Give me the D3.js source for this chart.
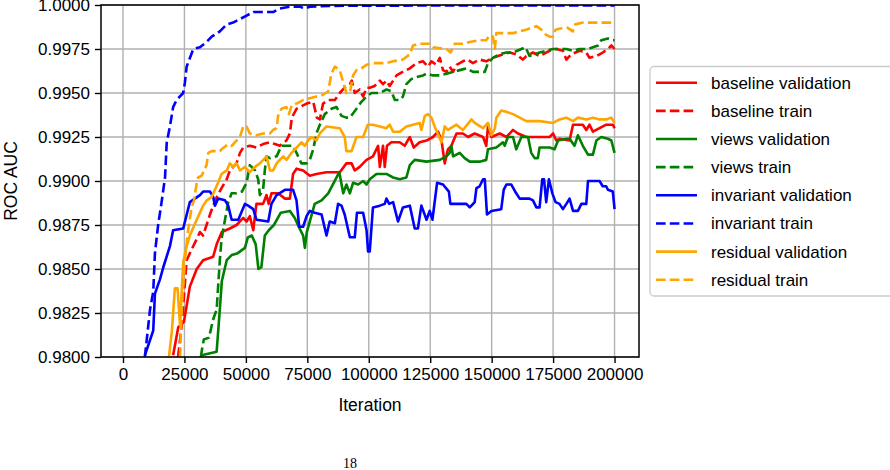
<!DOCTYPE html>
<html>
<head>
<meta charset="utf-8">
<script src="https://cdn.jsdelivr.net/npm/d3@7"></script>
<style>
  body { margin: 0; background: #fff; }
  svg text { font-family: "Liberation Sans", Arial, sans-serif; fill: #000; }
</style>
</head>
<body>
<svg id="canvas" width="890" height="470"></svg>
<script>
// iterations are in thousands, values are ROC AUC
let baselineVal = [[20.4,0.9801],[22.5,0.9817],[24.8,0.9820],[27.2,0.9840],[30.0,0.9850],[32.6,0.9855],[36.7,0.9857],[38.1,0.9864],[40.2,0.9871],[43.5,0.9873],[46.2,0.9875],[48.9,0.9879],[50.3,0.9877],[51.6,0.9880],[53.0,0.9872],[54.3,0.9887],[57.0,0.9887],[58.4,0.9892],[59.3,0.9887],[60.4,0.9893],[63.1,0.9893],[65.9,0.9890],[67.9,0.9890],[69.2,0.9904],[70.6,0.9907],[73.3,0.9906],[76.0,0.9903],[78.7,0.9904],[82.8,0.9905],[88.2,0.9905],[90.9,0.9910],[93.0,0.9910],[94.3,0.9906],[96.3,0.9908],[99.1,0.9912],[101.7,0.9914],[103.8,0.9920],[104.5,0.9908],[105.8,0.9920],[106.5,0.9908],[107.4,0.9920],[109.2,0.9922],[112.6,0.9922],[114.6,0.9920],[116.7,0.9925],[118.3,0.9919],[120.7,0.9922],[123.5,0.9923],[126.1,0.9925],[128.2,0.9928],[129.6,0.9923],[130.9,0.9910],[132.2,0.9918],[133.6,0.9920],[135.7,0.9927],[138.3,0.9927],[140.4,0.9925],[143.1,0.9927],[146.5,0.9925],[147.8,0.9920],[148.5,0.9931],[149.9,0.9925],[153.3,0.9927],[156.0,0.9925],[158.7,0.9929],[160.7,0.9927],[164.1,0.9925],[173.6,0.9925],[175.0,0.9927],[176.3,0.9923],[177.6,0.9924],[181.7,0.9923],[183.1,0.9932],[187.1,0.9932],[188.5,0.9929],[189.8,0.9932],[191.2,0.9928],[193.9,0.9930],[196.6,0.9932],[199.3,0.9932],[200,0.9930]];

let baselineTrain = [[22.4,0.9800],[23.9,0.9818],[25.9,0.9855],[27.9,0.9861],[30.0,0.9867],[31.3,0.9871],[32.6,0.9869],[34.0,0.9875],[35.4,0.9881],[36.7,0.9886],[38.2,0.9891],[40.1,0.9896],[42.2,0.9901],[43.5,0.9906],[44.8,0.9908],[46.2,0.9910],[47.6,0.9916],[48.9,0.9919],[51.6,0.9920],[54.3,0.9919],[57.0,0.9921],[59.8,0.9922],[61.8,0.9921],[63.8,0.9920],[66.5,0.9923],[67.9,0.9927],[68.7,0.9936],[70.6,0.9941],[72.0,0.9942],[74.7,0.9944],[77.4,0.9945],[78.9,0.9936],[80.1,0.9935],[81.4,0.9944],[83.5,0.9946],[86.2,0.9946],[88.2,0.9950],[90.2,0.9953],[92.3,0.9955],[93.1,0.9957],[94.3,0.9950],[96.3,0.9952],[97.7,0.9948],[99.1,0.9953],[100.4,0.9953],[102.4,0.9954],[104.5,0.9957],[105.8,0.9955],[107.2,0.9957],[108.5,0.9954],[111.3,0.9960],[113.8,0.9962],[116.7,0.9964],[119.4,0.9967],[122.1,0.9968],[124.1,0.9965],[125.5,0.9968],[127.5,0.9966],[128.9,0.9970],[130.2,0.9963],[131.6,0.9962],[132.9,0.9965],[134.3,0.9962],[135.7,0.9966],[138.3,0.9968],[140.2,0.9969],[142.4,0.9967],[145.1,0.9969],[147.8,0.9968],[150.5,0.9970],[154.6,0.9972],[157.3,0.9973],[160.0,0.9972],[162.7,0.9969],[164.1,0.9971],[166.8,0.9973],[169.5,0.9971],[173.6,0.9974],[176.3,0.9975],[179.0,0.9974],[180.4,0.9969],[182.4,0.9972],[185.8,0.9974],[188.5,0.9973],[189.8,0.9970],[192.6,0.9971],[195.2,0.9973],[197.3,0.9975],[198.7,0.9977],[200,0.9975]];

let viewsVal = [[32.0,0.9801],[38.1,0.9803],[39.4,0.9827],[40.2,0.9843],[42.2,0.9855],[44.3,0.9858],[46.7,0.9859],[49.6,0.9862],[50.8,0.9868],[52.4,0.9869],[54.0,0.9864],[55.1,0.9850],[56.3,0.9851],[57.7,0.9869],[59.3,0.9872],[61.4,0.9875],[64.2,0.9882],[67.9,0.9883],[69.9,0.9879],[71.5,0.9874],[73.3,0.9869],[74.0,0.9862],[74.8,0.9871],[78.0,0.9887],[80.8,0.9889],[83.5,0.9893],[86.9,0.9902],[88.0,0.9905],[89.6,0.9893],[90.9,0.9898],[92.3,0.9893],[93.6,0.9899],[95.7,0.9898],[97.7,0.9900],[99.1,0.9898],[100.4,0.9901],[103.1,0.9904],[107.2,0.9904],[109.9,0.9902],[112.6,0.9901],[115.3,0.9902],[116.7,0.9909],[118.7,0.9912],[123.5,0.9911],[128.9,0.9912],[131.6,0.9914],[132.9,0.9916],[133.6,0.9920],[134.3,0.9914],[137.0,0.9916],[139.0,0.9913],[141.1,0.9911],[145.1,0.9911],[147.8,0.9912],[148.5,0.9918],[151.9,0.9919],[154.6,0.9922],[155.3,0.9920],[156.6,0.9925],[158.7,0.9925],[160.0,0.9918],[162.1,0.9925],[164.8,0.9925],[166.1,0.9916],[167.5,0.9913],[168.8,0.9913],[169.5,0.9919],[173.6,0.9919],[175.6,0.9918],[177.0,0.9923],[180.4,0.9924],[181.7,0.9924],[183.7,0.9920],[185.1,0.9926],[187.1,0.9920],[189.2,0.9915],[191.2,0.9915],[192.6,0.9923],[194.6,0.9925],[197.3,0.9924],[198.7,0.9923],[200,0.9916]];

let viewsTrain = [[31.7,0.9800],[32.1,0.9804],[32.9,0.9810],[35.0,0.9811],[36.6,0.9821],[38.1,0.9827],[38.7,0.9840],[39.4,0.9855],[40.1,0.9867],[41.5,0.9878],[42.8,0.9888],[44.2,0.9893],[46.2,0.9893],[48.4,0.9894],[50.3,0.9899],[51.6,0.9909],[53.7,0.9906],[55.0,0.9901],[55.7,0.9892],[57.0,0.9895],[57.7,0.9906],[58.4,0.9914],[59.8,0.9913],[62.5,0.9914],[64.5,0.9920],[69.2,0.9920],[70.6,0.9916],[72.6,0.9910],[74.7,0.9910],[76.0,0.9912],[77.4,0.9918],[78.7,0.9927],[80.1,0.9932],[82.1,0.9938],[84.8,0.9941],[86.9,0.9942],[88.9,0.9937],[90.9,0.9936],[92.3,0.9936],[95.0,0.9941],[97.0,0.9945],[99.1,0.9948],[101.1,0.9950],[104.5,0.9950],[107.2,0.9952],[109.2,0.9951],[110.6,0.9946],[112.6,0.9946],[113.9,0.9948],[115.3,0.9955],[117.4,0.9958],[119.4,0.9959],[122.1,0.9960],[123.5,0.9961],[126.1,0.9960],[128.9,0.9960],[131.6,0.9961],[134.3,0.9962],[137.0,0.9963],[139.7,0.9964],[142.4,0.9962],[147.2,0.9962],[148.5,0.9967],[150.5,0.9970],[153.3,0.9972],[156.0,0.9973],[158.7,0.9973],[162.1,0.9975],[163.8,0.9976],[165.4,0.9971],[167.5,0.9972],[169.5,0.9973],[172.2,0.9974],[174.9,0.9975],[180.4,0.9975],[183.1,0.9974],[185.8,0.9975],[189.2,0.9975],[191.2,0.9976],[193.3,0.9977],[194.6,0.9980],[197.3,0.9981],[199.3,0.9980],[200,0.9980]];

let invariantVal = [[8.9,0.9801],[12.3,0.9815],[13.0,0.9836],[15.0,0.9844],[16.4,0.9851],[19.1,0.9863],[20.4,0.9872],[24.5,0.9873],[27.2,0.9888],[31.3,0.9892],[32.6,0.9894],[35.4,0.9894],[36.7,0.9891],[37.4,0.9886],[38.7,0.9890],[41.5,0.9889],[42.8,0.9886],[44.2,0.9878],[46.9,0.9878],[49.6,0.9887],[50.9,0.9886],[53.0,0.9884],[54.3,0.9878],[59.1,0.9877],[60.4,0.9887],[62.5,0.9892],[65.9,0.9895],[69.2,0.9895],[70.6,0.9889],[71.7,0.9874],[73.3,0.9874],[74.7,0.9880],[76.0,0.9883],[78.0,0.9882],[80.8,0.9881],[82.8,0.9869],[84.1,0.9877],[86.2,0.9876],[87.5,0.9887],[88.9,0.9886],[90.2,0.9881],[92.3,0.9868],[94.3,0.9868],[95.2,0.9882],[97.7,0.9882],[99.1,0.9872],[99.7,0.9860],[100.4,0.9860],[101.7,0.9885],[104.5,0.9886],[106.5,0.9887],[107.2,0.9890],[108.3,0.9887],[109.9,0.9888],[111.9,0.9877],[113.9,0.9885],[116.7,0.9886],[118.7,0.9873],[120.0,0.9873],[121.4,0.9886],[123.5,0.9878],[124.8,0.9883],[125.9,0.9878],[127.8,0.9899],[130.2,0.9898],[132.6,0.9894],[133.2,0.9887],[139.7,0.9887],[141.1,0.9885],[143.1,0.9888],[143.8,0.9896],[145.1,0.9897],[146.5,0.9901],[147.2,0.9901],[148.1,0.9881],[149.9,0.9883],[153.9,0.9884],[154.9,0.9895],[156.0,0.9898],[158.0,0.9898],[160.0,0.9893],[161.4,0.9890],[165.4,0.9890],[166.8,0.9889],[168.2,0.9885],[169.5,0.9885],[170.6,0.9901],[171.3,0.9901],[172.2,0.9888],[173.3,0.9901],[174.7,0.9893],[176.0,0.9888],[177.6,0.9887],[179.0,0.9884],[180.4,0.9887],[181.7,0.9890],[183.1,0.9883],[185.1,0.9883],[186.5,0.9887],[188.5,0.9887],[189.2,0.9900],[193.9,0.9900],[195.2,0.9897],[196.6,0.9897],[197.3,0.9895],[199.3,0.9894],[200,0.9884]];

let invariantTrain = [[8.9,0.9800],[11.0,0.9827],[12.3,0.9837],[13.0,0.9859],[14.3,0.9875],[15.7,0.9888],[17.1,0.9902],[17.8,0.9922],[19.1,0.9931],[20.4,0.9942],[21.8,0.9946],[24.5,0.9950],[25.2,0.9956],[25.9,0.9965],[28.6,0.9975],[31.3,0.9976],[34.0,0.9979],[36.1,0.9982],[39.4,0.9985],[42.2,0.9989],[44.8,0.9990],[47.6,0.9992],[50.3,0.9994],[53.0,0.9996],[57.0,0.9996],[61.1,0.9996],[63.8,0.9998],[67.9,0.9999],[72.0,0.9999],[74.0,0.9998],[76.0,0.9999],[84.1,0.99995],[120,0.99997],[160,0.99998],[200,0.99998]];

let residualVal = [[18.7,0.9800],[19.9,0.9815],[21.1,0.9839],[22.2,0.9839],[23.2,0.9818],[24.5,0.9854],[25.9,0.9863],[27.2,0.9869],[30.0,0.9878],[32.6,0.9886],[34.1,0.9889],[36.1,0.9891],[37.4,0.9895],[38.7,0.9899],[40.1,0.9904],[42.2,0.9906],[43.5,0.9910],[44.8,0.9908],[46.2,0.9910],[47.6,0.9906],[49.6,0.9908],[51.6,0.9905],[53.7,0.9908],[55.7,0.9910],[58.4,0.9914],[59.8,0.9906],[61.1,0.9906],[62.5,0.9910],[63.8,0.9912],[65.2,0.9914],[66.5,0.9912],[68.6,0.9916],[70.6,0.9919],[72.6,0.9922],[74.0,0.9920],[75.3,0.9923],[76.7,0.9925],[78.7,0.9923],[80.1,0.9927],[82.8,0.9931],[88.2,0.9930],[90.2,0.9925],[90.9,0.9917],[93.0,0.9917],[95.0,0.9925],[97.7,0.9925],[99.6,0.9932],[101.7,0.9932],[104.5,0.9931],[107.2,0.9930],[108.5,0.9932],[109.9,0.9928],[112.6,0.9928],[115.3,0.9931],[118.0,0.9932],[120.7,0.9933],[121.4,0.9929],[122.8,0.9937],[124.1,0.9938],[125.5,0.9936],[126.8,0.9931],[129.6,0.9922],[130.9,0.9931],[132.2,0.9929],[135.7,0.9932],[138.3,0.9929],[141.8,0.9935],[143.1,0.9933],[146.5,0.9930],[148.5,0.9933],[149.9,0.9926],[151.3,0.9930],[151.9,0.9936],[153.9,0.9940],[156.6,0.9939],[158.7,0.9938],[161.4,0.9936],[164.1,0.9934],[169.5,0.9934],[175.0,0.9933],[177.6,0.9935],[180.4,0.9936],[183.1,0.9934],[185.1,0.9936],[188.5,0.9935],[191.2,0.9936],[193.9,0.9935],[196.6,0.9935],[198.7,0.9936],[200,0.9933]];

let residualTrain = [[23.2,0.9800],[23.9,0.9827],[25.2,0.9855],[26.5,0.9872],[27.9,0.9885],[28.9,0.9889],[30.0,0.9899],[30.6,0.9902],[32.0,0.9903],[34.0,0.9909],[34.7,0.9916],[36.1,0.9917],[39.4,0.9917],[40.1,0.9918],[42.8,0.9921],[44.2,0.9920],[46.2,0.9923],[47.6,0.9925],[48.9,0.9931],[50.3,0.9931],[51.6,0.9927],[54.3,0.9926],[57.0,0.9927],[59.8,0.9927],[61.0,0.9929],[62.5,0.9930],[63.1,0.9937],[64.5,0.9941],[66.5,0.9942],[67.5,0.9938],[68.7,0.9943],[70.6,0.9944],[73.3,0.9946],[76.0,0.9947],[78.7,0.9948],[81.4,0.9949],[83.5,0.9951],[84.8,0.9961],[86.2,0.9965],[88.2,0.9963],[89.6,0.9956],[90.9,0.9950],[92.3,0.9950],[93.6,0.9960],[95.0,0.9963],[97.0,0.9964],[99.1,0.9966],[101.7,0.9967],[107.2,0.9967],[109.9,0.9968],[113.9,0.9969],[116.7,0.9972],[118.0,0.9977],[120.7,0.9978],[124.8,0.9978],[126.1,0.9976],[131.6,0.9975],[133.3,0.9973],[135.0,0.9978],[138.3,0.9978],[141.1,0.9979],[145.1,0.9980],[147.8,0.9980],[149.2,0.9983],[150.5,0.9982],[151.3,0.9975],[151.9,0.9984],[154.6,0.9984],[158.7,0.9984],[161.4,0.9985],[164.1,0.9986],[168.2,0.9988],[170.2,0.9986],[172.2,0.9983],[173.6,0.9982],[174.9,0.9982],[176.0,0.9986],[179.0,0.9987],[181.0,0.9987],[183.0,0.9985],[184.0,0.9989],[187.1,0.9990],[193.9,0.9990],[196.6,0.9990],[200,0.9990]];

let seriesNames = ['baseline validation', 'baseline train', 'views validation', 'views train',
    'invariant validation', 'invariant train', 'residual validation', 'residual train'];
let seriesColors = ['red', 'red', 'green', 'green', 'blue', 'blue', 'orange', 'orange'];
let seriesDashed = [false, true, false, true, false, true, false, true];
let seriesData = [baselineVal, baselineTrain, viewsVal, viewsTrain, invariantVal, invariantTrain, residualVal, residualTrain];

let xTicks = [0, 25000, 50000, 75000, 100000, 125000, 150000, 175000, 200000];
let yTicks = [0.98, 0.9825, 0.985, 0.9875, 0.99, 0.9925, 0.995, 0.9975, 1.0];

// plot box
let plotLeft = 101, plotRight = 639, plotTop = 5, plotBottom = 357;

let x = d3.scaleLinear().domain([-8950, 209950]).range([plotLeft, plotRight]);
let y = d3.scaleLinear().domain([0.98, 1.0]).range([plotBottom, plotTop]);

let canvas = d3.select('#canvas');

canvas.append('clipPath').attr('id', 'plotclip')
    .append('rect')
    .attr('x', plotLeft).attr('y', plotTop)
    .attr('width', plotRight - plotLeft).attr('height', plotBottom - plotTop);

// grid
let grid = canvas.append('g').attr('stroke', '#b0b0b0').attr('stroke-width', 1.4);
grid.selectAll('line.gx')
    .data(xTicks)
    .enter()
    .append('line')
    .attr('class', 'gx')
    .attr('x1', d => x(d)).attr('x2', d => x(d))
    .attr('y1', plotTop).attr('y2', plotBottom);
grid.selectAll('line.gy')
    .data(yTicks)
    .enter()
    .append('line')
    .attr('class', 'gy')
    .attr('y1', d => y(d)).attr('y2', d => y(d))
    .attr('x1', plotLeft).attr('x2', plotRight);

// lines
let line = d3.line()
    .x(d => x(d[0] * 1000))
    .y(d => y(d[1]));

canvas.append('g')
    .attr('clip-path', 'url(#plotclip)')
    .selectAll('path')
    .data(seriesData)
    .enter()
    .append('path')
    .attr('d', line)
    .attr('fill', 'none')
    .attr('stroke', (d, i) => seriesColors[i])
    .attr('stroke-width', 2.6)
    .attr('stroke-linejoin', 'round')
    .attr('stroke-dasharray', (d, i) => seriesDashed[i] ? '9.6,4.2' : null);

// spines
canvas.append('rect')
    .attr('x', plotLeft).attr('y', plotTop)
    .attr('width', plotRight - plotLeft).attr('height', plotBottom - plotTop)
    .attr('fill', 'none')
    .attr('stroke', 'black')
    .attr('stroke-width', 1.5);

// axes
let xAxis = canvas.append('g')
    .attr('transform', `translate(0,${plotBottom})`)
    .call(d3.axisBottom(x).tickValues(xTicks).tickSize(6).tickPadding(5).tickFormat(d3.format('d')));
let yAxis = canvas.append('g')
    .attr('transform', `translate(${plotLeft},0)`)
    .call(d3.axisLeft(y).tickValues(yTicks).tickSize(6).tickPadding(5).tickFormat(d3.format('.4f')));

[xAxis, yAxis].forEach(ax => {
    ax.select('.domain').remove();
    ax.selectAll('.tick line').attr('stroke', 'black').attr('stroke-width', 1.4);
    ax.selectAll('.tick text').style('font-size', '17px').style('font-family', '"Liberation Sans", Arial, sans-serif');
});

// axis labels
canvas.append('text')
    .attr('x', (plotLeft + plotRight) / 2)
    .attr('y', 411)
    .attr('text-anchor', 'middle')
    .style('font-size', '17.5px')
    .text('Iteration');

canvas.append('text')
    .attr('transform', `translate(17,${(plotTop + plotBottom) / 2}) rotate(-90)`)
    .attr('text-anchor', 'middle')
    .style('font-size', '17.5px')
    .text('ROC AUC');

// legend
let legend = canvas.append('g');
legend.append('rect')
    .attr('x', 650).attr('y', 66.5)
    .attr('width', 260).attr('height', 229.5)
    .attr('rx', 4)
    .attr('fill', 'white')
    .attr('stroke', '#cccccc')
    .attr('stroke-width', 1.3);

let rows = legend.selectAll('g.row')
    .data(seriesNames)
    .enter()
    .append('g')
    .attr('class', 'row')
    .attr('transform', (d, i) => `translate(0,${82.7 + i * 28.15})`);

rows.append('line')
    .attr('x1', 656).attr('x2', 697)
    .attr('y1', 0).attr('y2', 0)
    .attr('stroke', (d, i) => seriesColors[i])
    .attr('stroke-width', 2.6)
    .attr('stroke-dasharray', (d, i) => seriesDashed[i] ? '9.6,4.2' : null);

rows.append('text')
    .attr('x', 711)
    .attr('y', 6)
    .style('font-size', '17px')
    .text(d => d);

// page number under the figure
canvas.append('text')
    .attr('x', 350)
    .attr('y', 468)
    .attr('text-anchor', 'middle')
    .style('font-family', '"Liberation Serif", serif')
    .style('font-size', '14px')
    .text('18');
</script>
</body>
</html>
